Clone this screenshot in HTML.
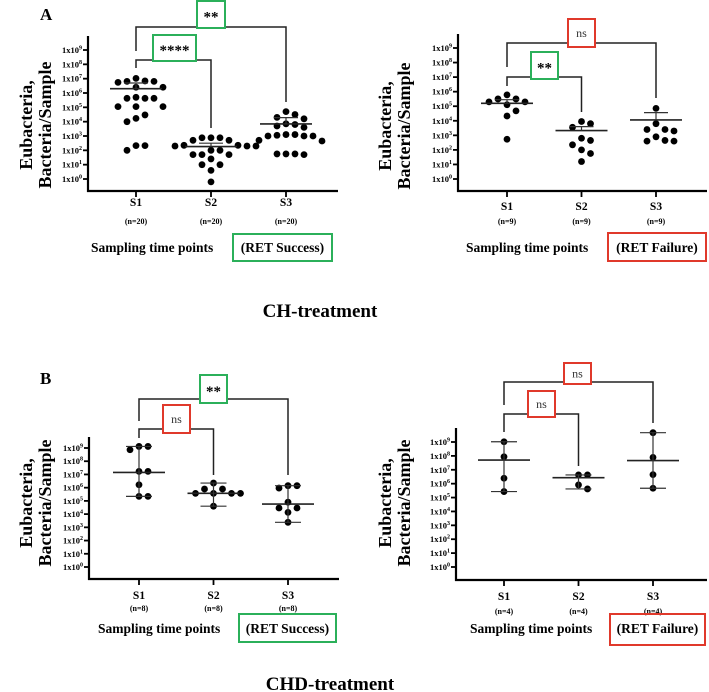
<!DOCTYPE html>
<html><head><meta charset="utf-8">
<style>
html,body{margin:0;padding:0;background:#fff;}
svg{display:block;font-family:"Liberation Serif",serif;}
</style></head>
<body>
<svg id="fig" width="709" height="692" viewBox="0 0 709 692" xmlns="http://www.w3.org/2000/svg">
<text x="40" y="20" font-size="17" font-weight="bold">A</text>
<text x="40" y="384" font-size="17" font-weight="bold">B</text>
<text x="320" y="317" font-size="19" font-weight="bold" text-anchor="middle">CH-treatment</text>
<text x="330" y="690" font-size="19" font-weight="bold" text-anchor="middle">CHD-treatment</text>
</svg>
<script>
// ---- data (log10 of bacteria/sample) ----
const groups = ["S1","S2","S3"];
const tickExps = [0,1,2,3,4,5,6,7,8,9];
// Panel A left: CH RET Success (mean ± SEM)
const chSuccessN = ["(n=20)","(n=20)","(n=20)"];
const chSuccessS1 = [6.84,7.02,6.74,6.81,6.81,6.4,6.4,5.63,5.63,5.63,5.7,5.05,5.05,5.05,4.47,4.23,4.0,2.33,2.33,2.0];
const chSuccessS2 = [2.88,2.88,2.88,2.7,2.7,2.35,2.35,2.3,2.3,2.3,2.0,2.0,1.7,1.7,1.7,1.4,1.0,1.0,0.6,-0.2];
const chSuccessS3 = [4.7,4.5,4.3,4.2,3.85,3.8,3.7,3.6,3.1,3.1,3.05,3.0,3.0,3.0,2.7,2.65,1.75,1.75,1.75,1.7];
const chSuccessCenter = [6.3,2.26,3.84];
const chSuccessUpper = [6.7,2.5,4.28];
// Panel A right: CH RET Failure
const chFailureN = ["(n=9)","(n=9)","(n=9)"];
const chFailureS1 = [5.78,5.3,5.3,5.5,5.5,5.1,4.68,4.33,2.73];
const chFailureS2 = [3.8,3.55,3.95,2.8,2.65,2.35,2.0,1.75,1.2];
const chFailureS3 = [4.85,3.8,3.4,3.4,3.3,2.9,2.65,2.6,2.6];
const chFailureCenter = [5.2,3.33,4.06];
const chFailureUpper = [5.45,3.6,4.56];
// Panel B left: CHD RET Success (median with range)
const chdSuccessN = ["(n=8)","(n=8)","(n=8)"];
const chdSuccessS1 = [9.12,9.12,8.87,7.23,7.23,6.22,5.34,5.34];
const chdSuccessS2 = [6.35,5.9,5.9,5.57,5.57,5.57,5.57,4.6];
const chdSuccessS3 = [6.15,6.15,5.97,4.9,4.46,4.46,4.13,3.38];
const chdSuccessCenter = [7.15,5.57,4.76];
// Panel B right: CHD RET Failure
const chdFailureN = ["(n=4)","(n=4)","(n=4)"];
const chdFailureS1 = [9.02,7.94,6.39,5.43];
const chdFailureS2 = [6.63,6.63,5.91,5.62];
const chdFailureS3 = [9.67,7.89,6.65,5.67];
const chdFailureCenter = [7.7,6.43,7.66];

const NS = "http://www.w3.org/2000/svg";
const svg = document.getElementById("fig");
function mk(tag, attrs, parent){
  const e = document.createElementNS(NS, tag);
  for (const k in attrs) e.setAttribute(k, attrs[k]);
  (parent||svg).appendChild(e);
  return e;
}

function drawPanel(c){
  const g = mk("g", {});
  
  
  const y = v => c.y0 - (v - 0) * (c.y0 - c.y9) / 9;
  const x = i => c.xs[0] + i * (c.xs[2] - c.xs[0]) / 2;
  const ya = mk("line", {x1:c.ax, y1:c.top, x2:c.ax, y2:c.base+1, stroke:"#000","stroke-width":2.2}, g);
  
  
  const xa = mk("line", {x1:c.ax-1, y1:c.base, x2:c.axEnd, y2:c.base, stroke:"#000","stroke-width":2.2}, g);
  
  
  tickExps.forEach(e => {
    const ty = y(e);
    const tl = mk("line", {x1:c.ax-5, y1:ty, x2:c.ax, y2:ty, stroke:"#000","stroke-width":1.8}, g);
    
    
    const t = mk("text", {x:c.ax-6, y:ty+3, "font-size":8.5, "font-weight":"bold", "text-anchor":"end"}, g);
    
    
    t.textContent = "1x10";
    const s = mk("tspan", {"font-size":6, dy:-3.5}, t);
    s.textContent = String(e);
  });
  const yt = mk("text", {transform:`translate(${c.ytx},${c.yty}) rotate(-90)`, "font-size":18, "font-weight":"bold", "text-anchor":"middle"}, g);
  
  
  const t1 = mk("tspan", {x:0, y:0}, yt); t1.textContent = "Eubacteria,";
  const t2 = mk("tspan", {x:0, y:19}, yt); t2.textContent = "Bacteria/Sample";
  groups.forEach((gname, i) => {
    const tk = mk("line", {x1:x(i), y1:c.base, x2:x(i), y2:c.base+6, stroke:"#000","stroke-width":1.8}, g);
    
    
    const l = mk("text", {x:x(i), y:c.sy, "font-size":11.5, "font-weight":"bold", "text-anchor":"middle"}, g);
    
    
    l.textContent = gname;
    const n = mk("text", {x:x(i), y:c.ny, "font-size":8, "font-weight":"bold", "text-anchor":"middle"}, g);
    
    
    n.textContent = c.nLabels[i];
  });
  const xl = mk("text", {x:c.xlx, y:c.xly, "font-size":13.5, "font-weight":"bold"}, g);
  
  
  xl.textContent = "Sampling time points";
  const ob = mk("rect", {x:c.ob[0], y:c.ob[1], width:c.ob[2], height:c.ob[3], fill:"none", stroke:c.obColor, "stroke-width":2}, g);
  
  
  const ot = mk("text", {x:c.ob[0]+c.ob[2]/2, y:c.xly, "font-size":13.5, "font-weight":"bold", "text-anchor":"middle"}, g);
  
  
  ot.textContent = c.outcome;
  const r = 3.4, d = 9;
  c.series.forEach((vals, i) => {
    const cx0 = x(i);
    const placed = [];
    const sorted = vals.slice().sort((a,b)=>b-a);
    sorted.forEach(v => {
      const py = y(v);
      let px = cx0;
      for (let s = 0; s < 40; s++) {
        const off = s === 0 ? 0 : (s % 2 ? 1 : -1) * Math.ceil(s/2) * d;
        const tx = cx0 + off;
        if (placed.every(p => (p[0]-tx)**2 + (p[1]-py)**2 >= (d-0.5)**2)) { px = tx; break; }
      }
      placed.push([px, py]);
      const dot = mk("circle", {cx:px, cy:py, r:r, fill:"#000"}, g);
      
      
    });
    const cy = y(c.center[i]);
    const cl = mk("line", {x1:cx0-26, y1:cy, x2:cx0+26, y2:cy, stroke:"#222","stroke-width":1.6}, g);
    
    
    let lo, hi;
    if (c.rangeMode) { lo = Math.min(...vals); hi = Math.max(...vals); }
    else { lo = c.center[i]; hi = c.upper[i]; }
    const eb = mk("line", {x1:cx0, y1:y(lo), x2:cx0, y2:y(hi), stroke:"#333","stroke-width":1.2}, g);
    
    
    const capw = c.rangeMode ? 13 : 12;
    const cap1 = mk("line", {x1:cx0-capw, y1:y(hi), x2:cx0+capw, y2:y(hi), stroke:"#333","stroke-width":1.2}, g);
    
    
    if (c.rangeMode) {
      const cap2 = mk("line", {x1:cx0-capw, y1:y(lo), x2:cx0+capw, y2:y(lo), stroke:"#333","stroke-width":1.2}, g);
      
      
    }
  });
  c.brackets.forEach(b => {
    const p = mk("path", {d:`M${x(b.a)},${b.la} V${b.y} H${x(b.b)} V${b.lb}`, fill:"none", stroke:"#222","stroke-width":1.5}, g);
    
    
    const bx = mk("rect", {x:b.box[0], y:b.box[1], width:b.box[2], height:b.box[3], fill:"#fff", stroke:b.color, "stroke-width":2}, g);
    
    
    const st = b.label === "ns";
    const t = mk("text", {x:b.box[0]+b.box[2]/2, y:b.box[1]+b.box[3]/2+(st?4:7), "font-size":st?12:15, "font-weight":st?"normal":"bold", "text-anchor":"middle", fill:st?"#333":"#000"}, g);
    
    
    t.textContent = b.label;
  });
}

const GREEN = "#2bb05a", RED = "#e0392b";
drawPanel({name:"ch-success-panel", ax:88, axEnd:338, top:36, base:191, y0:179, y9:50, xs:[136,211,286],
  ytx:32, yty:125, sy:206, ny:224, xlx:91, xly:252, ob:[233,234,99,27], obColor:GREEN, outcome:"(RET Success)",
  nLabels:chSuccessN, series:[chSuccessS1,chSuccessS2,chSuccessS3], center:chSuccessCenter, upper:chSuccessUpper, rangeMode:false,
  brackets:[{a:0,b:2,y:27,la:51,lb:102,box:[197,1,28,27],color:GREEN,label:"**"},
            {a:0,b:1,y:60,la:68,lb:128,box:[153,35,43,26],color:GREEN,label:"****"}]});
drawPanel({name:"ch-failure-panel", ax:458, axEnd:707, top:34, base:191, y0:179, y9:48, xs:[507,581,656],
  ytx:391, yty:126, sy:210, ny:224, xlx:466, xly:252, ob:[608,233,98,28], obColor:RED, outcome:"(RET Failure)",
  nLabels:chFailureN, series:[chFailureS1,chFailureS2,chFailureS3], center:chFailureCenter, upper:chFailureUpper, rangeMode:false,
  brackets:[{a:0,b:2,y:43,la:67,lb:98,box:[568,19,27,28],color:RED,label:"ns"},
            {a:0,b:1,y:77,la:86,lb:112,box:[531,52,27,27],color:GREEN,label:"**"}]});
drawPanel({name:"chd-success-panel", ax:89, axEnd:339, top:437, base:579, y0:567, y9:448, xs:[139,213,288],
  ytx:32, yty:503, sy:599, ny:611, xlx:98, xly:633, ob:[239,614,97,28], obColor:GREEN, outcome:"(RET Success)",
  nLabels:chdSuccessN, series:[chdSuccessS1,chdSuccessS2,chdSuccessS3], center:chdSuccessCenter, rangeMode:true,
  brackets:[{a:0,b:2,y:399,la:421,lb:475,box:[200,375,27,28],color:GREEN,label:"**"},
            {a:0,b:1,y:429,la:438,lb:475,box:[163,405,27,28],color:RED,label:"ns"}]});
drawPanel({name:"chd-failure-panel", ax:456, axEnd:707, top:428, base:580, y0:567, y9:442, xs:[504,578,653],
  ytx:391, yty:503, sy:600, ny:614, xlx:470, xly:633, ob:[610,614,95,31], obColor:RED, outcome:"(RET Failure)",
  nLabels:chdFailureN, series:[chdFailureS1,chdFailureS2,chdFailureS3], center:chdFailureCenter, rangeMode:true,
  brackets:[{a:0,b:2,y:382,la:405,lb:423,box:[564,363,27,21],color:RED,label:"ns"},
            {a:0,b:1,y:414,la:432,lb:466,box:[528,391,27,26],color:RED,label:"ns"}]});
</script>
</body></html>
